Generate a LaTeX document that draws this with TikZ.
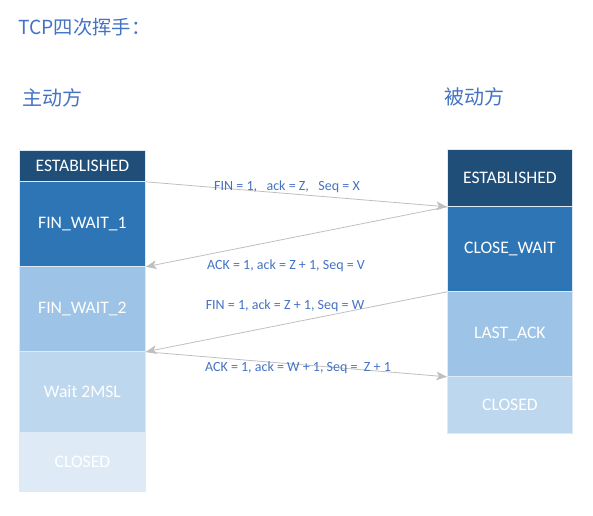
\documentclass[tikz,border=0pt]{standalone}
\usepackage{fontspec}
\setmainfont{Carlito}
\newfontfamily\cjk{Noto Sans CJK SC}
\usetikzlibrary{arrows.meta}
\definecolor{cA}{HTML}{1F4E79}
\definecolor{cB}{HTML}{2E75B6}
\definecolor{cC}{HTML}{9DC3E6}
\definecolor{cD}{HTML}{BDD7EE}
\definecolor{cE}{HTML}{DEEBF7}
\definecolor{txtblue}{HTML}{4472C4}
\definecolor{arrgray}{HTML}{BFBFBF}
\tikzset{
  statebox/.style={anchor=north west, inner sep=0pt, draw=cE, line width=0.6pt,
    text=white, font=\fontsize{13.2}{15}\selectfont},
  lbox/.style={statebox, minimum width=94.5pt},
  rbox/.style={statebox, minimum width=93.75pt},
  msg/.style={->, draw=arrgray, line width=0.6pt, >={Stealth[length=8pt,width=6.5pt,inset=2pt]}},
  msglabel/.style={text=txtblue, font=\fontsize{10.5}{12}\selectfont, inner sep=0pt},
  heading/.style={text=txtblue, anchor=west, inner sep=0pt}
}
\begin{document}
\begin{tikzpicture}[x=0.75pt,y=-0.75pt]
\useasboundingbox (0,0) rectangle (593,515);
\node[heading, font=\cjk\fontsize{14.5}{16}\selectfont] (title) at (18,27) {TCP四次挥手：};
\node[heading, font=\cjk\fontsize{15}{18}\selectfont] (act) at (22,98) {主动方};
\node[heading, font=\cjk\fontsize{15}{18}\selectfont] (pas) at (444,97) {被动方};

% left column
\node[lbox, fill=cA, minimum height=23.25pt] (le) at (19,150) {ESTABLISHED};
\node[lbox, fill=cB, minimum height=63.75pt] (fw1) at (19,181) {FIN\_WAIT\_1};
\node[lbox, fill=cC, minimum height=63.75pt] (fw2) at (19,266) {FIN\_WAIT\_2};
\node[lbox, fill=cD, minimum height=60.75pt] (tw) at (19,351) {Wait 2MSL};
\node[lbox, fill=cE, minimum height=44.25pt] (lc) at (19,432) {CLOSED};

% right column
\node[rbox, fill=cA, minimum height=42.75pt] (re) at (447,149) {ESTABLISHED};
\node[rbox, fill=cB, minimum height=63.75pt] (cw) at (447,206) {CLOSE\_WAIT};
\node[rbox, fill=cC, minimum height=63.75pt] (la) at (447,291) {LAST\_ACK};
\node[rbox, fill=cD, minimum height=42.75pt] (rc) at (447,376) {CLOSED};

% messages
\draw[msg] (le.south east) -- (re.south west);
\draw[msg] (re.south west) -- (fw1.south east);
\draw[msg] (cw.south west) -- (fw2.south east);
\draw[msg] (fw2.south east) -- (la.south west);

\node[msglabel] (m1) at (287,187) {FIN = 1,\ \ \ ack = Z,\ \ \ Seq = X};
\node[msglabel] (m2) at (286,266) {ACK = 1, ack = Z + 1, Seq = V};
\node[msglabel] (m3) at (285,306) {FIN = 1, ack = Z + 1, Seq = W};
\node[msglabel] (m4) at (298,368) {ACK = 1, ack = W + 1, Seq =\ \ Z + 1};
\end{tikzpicture}
\end{document}
